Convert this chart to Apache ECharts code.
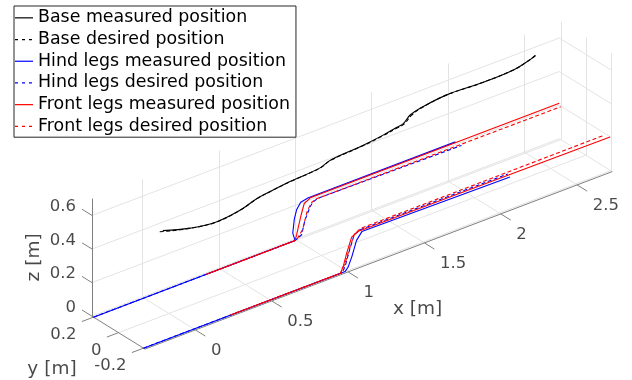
<!DOCTYPE html>
<html>
<head>
<meta charset="utf-8">
<script src="https://cdn.jsdelivr.net/npm/echarts@6/dist/echarts.min.js"></script>
<style>
  html, body { margin: 0; padding: 0; background: #fff; }
  #chart { width: 632px; height: 380px; }
</style>
</head>
<body>
<div id="chart"></div>
<script>
// axis limits and ticks (metres)
var xLim = [-0.33, 2.73];
var yLim = [-0.212, 0.212];
var zLim = [0, 0.70];
var xTicks = [0, 0.5, 1, 1.5, 2, 2.5];
var yTicks = [-0.2, 0, 0.2];
var zTicks = [0, 0.2, 0.4, 0.6];
var xTickLabels = ['0', '0.5', '1', '1.5', '2', '2.5'];
var yTickLabels = ['-0.2', '0', '0.2'];
var zTickLabels = ['0', '0.2', '0.4', '0.6'];

var legendNames = [
  'Base measured position',
  'Base desired position',
  'Hind legs measured position',
  'Hind legs desired position',
  'Front legs measured position',
  'Front legs desired position'
];

// base trajectory (y = 0)
var baseY = 0;
var baseMeasX = [-0.04, 0.14, 0.31, 0.47, 0.58, 0.68, 0.79, 0.99, 1.06, 1.27, 1.40, 1.49, 1.535, 1.58, 1.64, 1.82, 2.04, 2.26, 2.37, 2.40];
var baseMeasZ = [0.507, 0.46, 0.438, 0.455, 0.486, 0.499, 0.511, 0.525, 0.548, 0.562, 0.577, 0.593, 0.600, 0.636, 0.653, 0.673, 0.666, 0.671, 0.696, 0.707];
var baseDesX = [-0.06, 0.14, 0.31, 0.47, 0.58, 0.68, 0.79, 0.99, 1.06, 1.27, 1.40, 1.49, 1.54, 1.59, 1.65, 1.82, 2.04, 2.26, 2.37, 2.40];
var baseDesZ = [0.507, 0.459, 0.437, 0.454, 0.485, 0.498, 0.510, 0.524, 0.546, 0.560, 0.574, 0.588, 0.596, 0.632, 0.652, 0.673, 0.666, 0.671, 0.696, 0.707];

// left feet (y = +0.2)
var leftY = 0.2;
var hindLeftMeasX = [-0.33, 0.99, 0.975, 0.985, 1.0, 1.027, 1.077, 2.04];
var hindLeftMeasZ = [0, 0, 0.05, 0.13, 0.18, 0.215, 0.225, 0.225];
var hindLeftDesX = [-0.33, 0.99, 1.033, 1.055, 1.09, 1.11, 1.14, 2.08];
var hindLeftDesZ = [0, 0, 0.02, 0.1, 0.17, 0.19, 0.2, 0.19];
var frontLeftMeasX = [0.41, 0.99, 1.0, 1.03, 1.05, 1.09, 2.72];
var frontLeftMeasZ = [0, 0, 0.03, 0.14, 0.2, 0.22, 0.22];
var frontLeftDesX = [0.41, 1.0, 1.04, 1.07, 1.1, 1.13, 2.73];
var frontLeftDesZ = [0, 0, 0.05, 0.15, 0.19, 0.2, 0.196];

// right feet (y = -0.2)
var rightY = -0.2;
var hindRightMeasX = [-0.33, 0.99, 1.01, 1.035, 1.065, 1.1, 2.07];
var hindRightMeasZ = [0, 0, 0.02, 0.075, 0.16, 0.2, 0.19];
var hindRightDesX = [-0.33, 0.97, 0.99, 1.02, 1.05, 1.09, 2.056];
var hindRightDesZ = [0, 0, 0.03, 0.12, 0.2, 0.215, 0.213];
var frontRightMeasX = [0.24, 0.96, 0.98, 1.0, 1.033, 1.077, 2.725];
var frontRightMeasZ = [0, 0, 0.04, 0.105, 0.19, 0.21, 0.202];
var frontRightDesX = [0.24, 0.96, 0.99, 1.02, 1.05, 1.09, 2.69];
var frontRightDesZ = [0, 0, 0.05, 0.13, 0.2, 0.222, 0.226];

// orthographic view: screen offset of one metre along each axis
var view = { origin: [168.9, 313.5], ex: [152.7, -58], ey: [-125, -77.5], ez: -168 };

function proj(x, y, z) {
  return [view.origin[0] + view.ex[0] * x + view.ey[0] * y,
          view.origin[1] + view.ex[1] * x + view.ey[1] * y + view.ez * z];
}

function track(xs, zs, y) {
  return xs.map(function (x, i) { return proj(x, y, zs[i]); });
}

var font = 'DejaVu Sans';
var textColor = '#1a1a1a';

// legend samples: a solid bar or three short dashes
var solidIcon = 'path://M0,0H18V1.2H0Z';
var dashIcon = 'path://M0,0H3V1.2H0Z M7,0H10V1.2H7Z M14,0H17V1.2H14Z M17.9,0H18V0.01H17.9Z';

// grid lines on the back walls and the floor
var gridSegs = [];
xTicks.forEach(function (x) {
  gridSegs.push({ coords: [proj(x, yLim[1], zLim[0]), proj(x, yLim[1], zLim[1])] });
  gridSegs.push({ coords: [proj(x, yLim[0], 0), proj(x, yLim[1], 0)] });
});
yTicks.forEach(function (y) {
  gridSegs.push({ coords: [proj(xLim[1], y, zLim[0]), proj(xLim[1], y, zLim[1])] });
  gridSegs.push({ coords: [proj(xLim[0], y, 0), proj(xLim[1], y, 0)] });
});
zTicks.forEach(function (z) {
  gridSegs.push({ coords: [proj(xLim[0], yLim[1], z), proj(xLim[1], yLim[1], z)] });
  gridSegs.push({ coords: [proj(xLim[1], yLim[0], z), proj(xLim[1], yLim[1], z)] });
});

// axis lines and ticks
var axisSegs = [
  { coords: [proj(xLim[0], yLim[0], 0), proj(xLim[1], yLim[0], 0)] },
  { coords: [proj(xLim[0], yLim[1], 0), proj(xLim[0], yLim[0], 0)] },
  { coords: [proj(xLim[0], yLim[1], 0), proj(xLim[0], yLim[1], zLim[1])] }
];
xTicks.forEach(function (x) {
  axisSegs.push({ coords: [proj(x, yLim[0], 0), proj(x, yLim[0] - 0.08, 0)] });
});
yTicks.forEach(function (y) {
  axisSegs.push({ coords: [proj(xLim[0], y, 0), proj(xLim[0] - 0.076, y, 0)] });
});
zTicks.forEach(function (z) {
  axisSegs.push({ coords: [proj(xLim[0], yLim[1], z), proj(xLim[0], yLim[1] + 0.08, z)] });
});

function labelSeries(points, texts, align, offset, size, rotate) {
  return {
    type: 'scatter',
    symbolSize: 0,
    silent: true,
    z: 3,
    data: points.map(function (p, i) { return { value: p, name: texts[i] }; }),
    label: {
      show: true,
      position: 'inside',
      formatter: '{b}',
      align: align,
      verticalAlign: 'middle',
      offset: offset,
      rotate: rotate || 0,
      fontFamily: font,
      fontSize: size,
      color: textColor
    }
  };
}

function footSeries(name, xs, zs, y, color, dashed, smooth) {
  return {
    name: name,
    type: 'line',
    symbol: 'none',
    silent: true,
    smooth: smooth || false,
    z: 5,
    data: track(xs, zs, y),
    lineStyle: { color: color, width: 1.1, type: dashed ? [4, 2.5] : 'solid' },
    itemStyle: { color: color }
  };
}

var chart = echarts.init(document.getElementById('chart'), null, { renderer: 'canvas' });

var series = [
  {
    type: 'lines', coordinateSystem: 'cartesian2d', silent: true, z: 1,
    data: gridSegs, lineStyle: { color: '#e3e3e3', width: 1, opacity: 1, curveness: 0 }
  },
  {
    type: 'lines', coordinateSystem: 'cartesian2d', silent: true, z: 2,
    data: axisSegs, lineStyle: { color: '#808080', width: 1, opacity: 1, curveness: 0 }
  },
  labelSeries(xTicks.map(function (x) { return proj(x, yLim[0], 0); }), xTickLabels, 'left', [15.5, 20.5], 16.5),
  labelSeries(yTicks.map(function (y) { return proj(xLim[0], y, 0); }), yTickLabels, 'right', [-17, 18], 16.5),
  labelSeries(zTicks.map(function (z) { return proj(xLim[0], yLim[1], z); }), zTickLabels, 'right', [-16, -8.5], 16.5),
  labelSeries([proj(1.2, yLim[0], 0)], ['x [m]'], 'center', [39, 49], 18.5),
  labelSeries([proj(xLim[0], 0, 0)], ['y [m]'], 'center', [-66.5, 36.4], 18.5),
  labelSeries([proj(xLim[0], yLim[1], 0.35)], ['z [m]'], 'center', [0, -58], 18.5, 90),
  footSeries(legendNames[0], baseMeasX, baseMeasZ, baseY, '#000000', false, 0.4),
  footSeries(legendNames[1], baseDesX, baseDesZ, baseY, '#000000', true, 0.4),
  footSeries(legendNames[2], hindLeftMeasX, hindLeftMeasZ, leftY, '#0000ff', false),
  footSeries(legendNames[2], hindRightMeasX, hindRightMeasZ, rightY, '#0000ff', false),
  footSeries(legendNames[3], hindLeftDesX, hindLeftDesZ, leftY, '#0000ff', true),
  footSeries(legendNames[3], hindRightDesX, hindRightDesZ, rightY, '#0000ff', true),
  footSeries(legendNames[4], frontLeftMeasX, frontLeftMeasZ, leftY, '#ff0000', false),
  footSeries(legendNames[4], frontRightMeasX, frontRightMeasZ, rightY, '#ff0000', false),
  footSeries(legendNames[5], frontLeftDesX, frontLeftDesZ, leftY, '#ff0000', true),
  footSeries(legendNames[5], frontRightDesX, frontRightDesZ, rightY, '#ff0000', true)
];

chart.setOption({
  animation: false,
  grid: { left: 0, right: 0, top: 0, bottom: 0 },
  xAxis: { type: 'value', min: 0, max: 632, show: false },
  yAxis: { type: 'value', min: 0, max: 380, inverse: true, show: false },
  legend: {
    data: legendNames.map(function (n, i) {
      return { name: n, icon: i % 2 === 0 ? solidIcon : dashIcon };
    }),
    orient: 'vertical',
    left: 14,
    top: 6,
    selectedMode: false,
    itemWidth: 18,
    itemHeight: 10,
    itemGap: 0,
    padding: [1, 6, 0, 1],
    backgroundColor: '#ffffff',
    borderColor: '#262626',
    borderWidth: 1,
    borderRadius: 0,
    textStyle: { fontFamily: font, fontSize: 17.4, color: '#000000', lineHeight: 21.7 }
  },
  series: series
});
</script>
</body>
</html>
